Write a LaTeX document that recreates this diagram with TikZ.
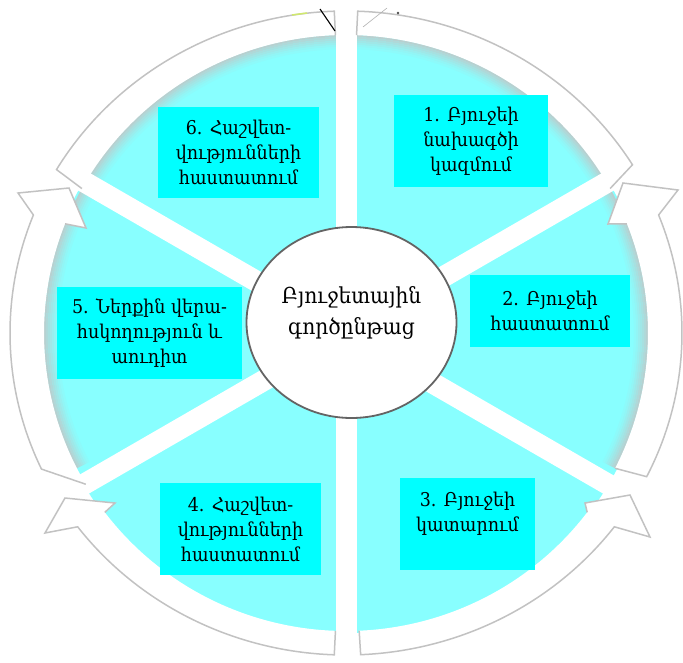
\documentclass[tikz,border=0pt]{standalone}
\usepackage{fontspec}
\setmainfont{DejaVu Serif}[FakeStretch=0.92]
\usetikzlibrary{calc,shapes.geometric}
\definecolor{sector}{HTML}{88FFFF}
\definecolor{boxcyan}{HTML}{00FFFF}
\definecolor{ringline}{HTML}{C2C2C2}
\definecolor{hubline}{HTML}{646464}
\definecolor{shadowgray}{HTML}{C4C4C4}
\newcommand{\ringarrowpath}[5]{%
  \fill[white] ($(W)+(#1:336 and 322)$) arc[start angle=#1,end angle=#2,x radius=336,y radius=322] #5 -- ($(W)+(#3:302 and 298)$) arc[start angle=#3,end angle=#4,x radius=302,y radius=298] -- cycle;
  \draw[ringedge] ($(W)+(#4:302 and 298)$) -- ($(W)+(#1:336 and 322)$) arc[start angle=#1,end angle=#2,x radius=336,y radius=322] #5 -- ($(W)+(#3:302 and 298)$);}
\begin{document}
\begin{tikzpicture}[x=1pt,y=1pt,
  stagebox/.style={fill=boxcyan, align=center, inner sep=0pt, font=\fontsize{19}{25}\selectfont},
  hubshape/.style={ellipse, draw=hubline, line width=1.8pt, fill=white, minimum width=210pt, minimum height=191pt, inner sep=0pt},
  hubtext/.style={align=center, font=\fontsize{22}{31}\selectfont},
  spokeline/.style={white, line width=21pt},
  ringedge/.style={draw=ringline, line width=1.5pt, line join=miter}]
\useasboundingbox (0,0) rectangle (683,-662);
\coordinate (W) at (346,-333);
% cyan disk
\fill[sector] (W) ellipse[x radius=304, y radius=300];
% soft shadow inside the ring
\foreach \rx/\ry/\p in {301/297/80, 299/295/66, 297/293/52, 295/291/40, 293/289/28, 291/287/17, 289/285/8}{
  \draw[line width=2.2pt, shadowgray!\p!sector] ($(W)+({\rx*cos(207)},{\ry*sin(207)})$) arc[start angle=207, end angle=-27, x radius=\rx, y radius=\ry];
}
% white spokes
\foreach \a in {30,90,150,210,270,330}{
  \draw[spokeline] (W) -- ($(W)+(\a:325)$);
}
% ring arrows
\ringarrowpath{268}{217}{217}{268}{-- (45,-533) -- (65,-498) -- (115,-503)}
\ringarrowpath{205}{158.5}{158.5}{210.5}{-- (18,-193) -- (69,-188) -- (86,-228)}
\ringarrowpath{149.5}{92}{92}{151}{}
\ringarrowpath{31.5}{88}{88}{29}{}
\ringarrowpath{-26.5}{21.5}{21.5}{-27}{-- (678,-190) -- (623,-183) -- (608,-224)}
\ringarrowpath{272.5}{323}{323}{272.5}{-- (650,-537) -- (630,-495) -- (585,-503)}
% small marks at the top
\draw[black, line width=1.1pt] (320,-9) -- (335,-31);
\draw[yellow!70!green!60, line width=1.5pt] (292,-15) -- (307,-13);
\draw[gray!60, line width=0.6pt] (363,-27) -- (387,-8);
\fill[black!70] (398,-13) circle[radius=1.3];
% stage boxes
\node[stagebox, minimum width=154pt, minimum height=92pt] (s1) at (471,-141) {1. Բյուջեի\\նախագծի\\կազմում};
\node[stagebox, minimum width=160pt, minimum height=72pt] (s2) at (550,-311) {2. Բյուջեի\\հաստատում};
\node[stagebox, minimum width=135pt, minimum height=92pt] (s3) at (467.5,-524) {3. Բյուջեի\\կատարում\\\mbox{}};
\node[stagebox, minimum width=161pt, minimum height=92pt] (s4) at (240.5,-529) {4. Հաշվետ-\\վությունների\\հաստատում};
\node[stagebox, minimum width=185pt, minimum height=92pt] (s5) at (149.5,-333) {5. Ներքին վերա-\\հսկողություն և\\աուդիտ};
\node[stagebox, minimum width=161pt, minimum height=91pt] (s6) at (238.5,-152.5) {6. Հաշվետ-\\վությունների\\հաստատում};
% hub
\node[hubshape] (hub) at (351.5,-322.5) {};
\node[hubtext] (hubtext) at (351.5,-313) {Բյուջետային\\գործընթաց};
\end{tikzpicture}
\end{document}
